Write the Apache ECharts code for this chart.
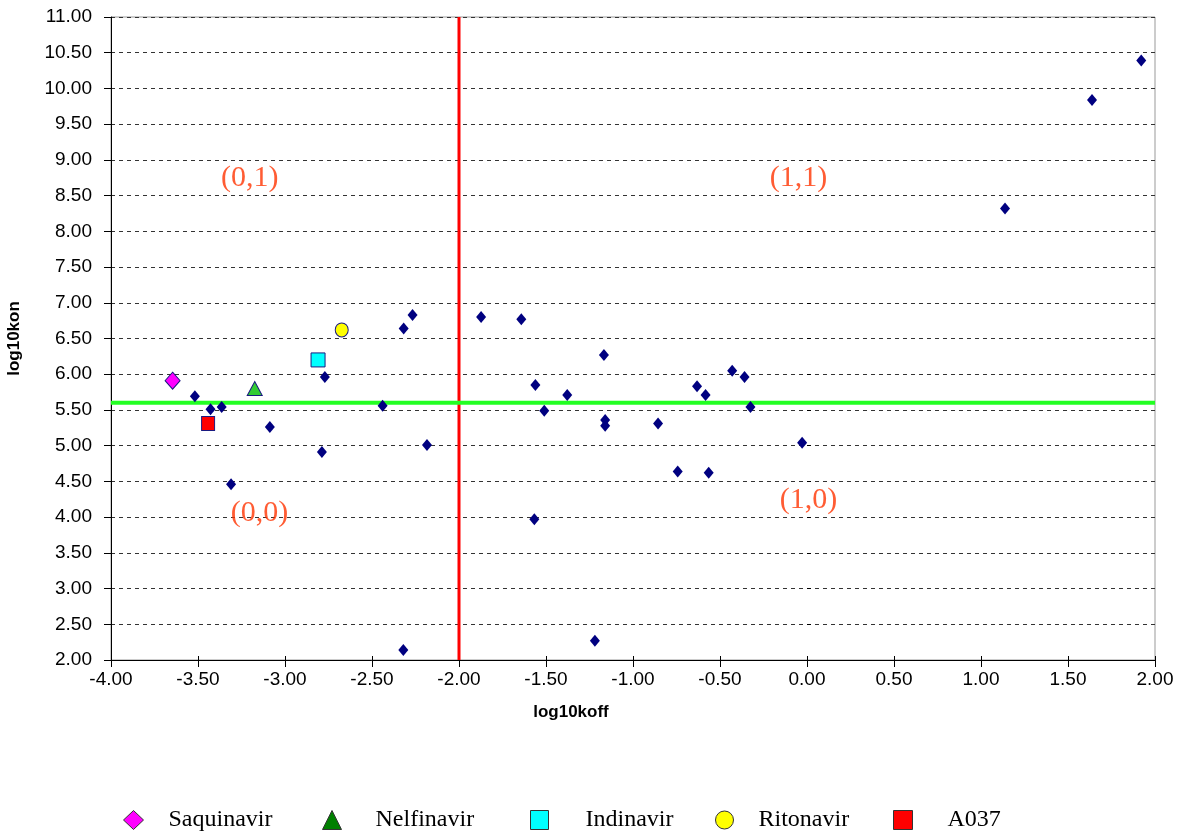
<!DOCTYPE html>
<html><head><meta charset="utf-8">
<script src="https://cdn.jsdelivr.net/npm/echarts@6/dist/echarts.min.js"></script>
<style>html,body{margin:0;padding:0;background:#fff}#c{width:1185px;height:834px}</style>
</head><body><div id="c"></div>
<script>
// Data
const otherKoff = [-3.518,-3.428,-3.364,-3.310,-3.087,-2.771,-2.788,-2.318,-2.267,-2.439,-2.184,-2.320,
  -1.873,-1.642,-1.561,-1.510,-1.378,-1.167,-1.160,-1.160,-0.856,-0.743,-0.632,-0.583,-0.565,-0.430,-0.359,-0.325,-0.028,-1.567,-1.219,
  1.921,1.638,1.138];
const otherKon = [5.69,5.51,5.54,4.46,5.26,5.96,4.91,6.64,6.83,5.56,5.01,2.14,
  6.80,6.77,5.85,5.49,5.71,6.27,5.36,5.28,5.31,4.64,5.83,5.71,4.62,6.05,5.96,5.54,5.04,3.97,2.27,
  10.39,9.84,8.32];
const drugNames = ['Saquinavir','Nelfinavir','Indinavir','Ritonavir','A037'];
const drugKoff = [-3.646,-3.174,-2.810,-2.674,-3.442];
const drugKon = [5.91,5.80,6.20,6.62,5.31];
const koffThreshold = -2.0;
const konThreshold = 5.6;
const quadrantNames = ['(0,1)','(1,1)','(0,0)','(1,0)'];
const quadrantKoff = [-3.203,-0.049,-3.146,0.008];
const quadrantKon = [8.75,8.75,4.06,4.24];
const xTicks = {min:-4, max:2, interval:0.5};
const yTicks = {min:2, max:11, interval:0.5};

const drugStyle = [
  {symbol:'diamond', size:[15,17], color:'#FF00FF', legendColor:'#FF00FF', legendSize:[20,19]},
  {symbol:'triangle', size:[15,14], color:'#33CC33', legendColor:'#008000', legendSize:[19,19]},
  {symbol:'rect', size:[14,14], color:'#00FFFF', legendColor:'#00FFFF', legendSize:[18,19]},
  {symbol:'circle', size:[13,14], color:'#FFFF00', legendColor:'#FFFF00', legendSize:[20,18]},
  {symbol:'rect', size:[13,14], color:'#FF0000', legendColor:'#FF0000', legendSize:[19,19]}
];
const legendCenters = [133, 331.5, 539, 725, 902.5];
const legendTextStarts = [168, 375, 585, 759, 947];

const series = [];
series.push({
  name:'others', type:'scatter', symbol:'diamond', symbolSize:[10,12],
  itemStyle:{color:'#000080', opacity:1},
  data: otherKoff.map((x,i)=>[x, otherKon[i]]), z:3
});
series.push({
  name:'koffLine', type:'line', symbol:'none', silent:true,
  lineStyle:{color:'#FF0000', width:3},
  data:[[koffThreshold, yTicks.min],[koffThreshold, yTicks.max]], z:2
});
series.push({
  name:'konLine', type:'line', symbol:'none', silent:true,
  lineStyle:{color:'#22FF22', width:4},
  data:[[xTicks.min, konThreshold],[xTicks.max, konThreshold]], z:2
});
drugNames.forEach((n,i)=>{
  const s = drugStyle[i];
  series.push({
    name:n, type:'scatter', symbol:s.symbol, symbolSize:s.size,
    itemStyle:{color:s.color, borderColor:'#1a1a80', borderWidth:1, opacity:1},
    data:[[drugKoff[i], drugKon[i]]], z:4
  });
});
series.push({
  name:'quadrants', type:'scatter', symbolSize:1, silent:true,
  itemStyle:{color:'rgba(0,0,0,0)'},
  label:{show:true, position:'inside', formatter:p=>p.data[2],
    fontFamily:'Liberation Serif', fontSize:30, color:'#FF3300'},
  data: quadrantNames.map((n,i)=>[quadrantKoff[i], quadrantKon[i], n]), z:5
});

const legends = drugNames.map((n,i)=>{
  const s = drugStyle[i];
  const left = legendCenters[i] - 5 - s.legendSize[0]/2;
  const pad = legendTextStarts[i] - left - 10 - s.legendSize[0];
  return {
    left: left, top: 803, itemWidth:s.legendSize[0], itemHeight:s.legendSize[1],
    textStyle:{fontFamily:'Liberation Serif', fontSize:24, color:'#000', padding:[2,0,0,pad]},
    data:[{name:n, icon: s.symbol, itemStyle:{color:s.legendColor, borderColor:'#333', borderWidth:1}}]
  };
});

const tickFont = {fontFamily:'Liberation Sans', fontSize:19, color:'#000'};
const chart = echarts.init(document.getElementById('c'), null, {renderer:'canvas'});
chart.setOption({
  animation:false,
  backgroundColor:'#fff',
  grid:{left:111, right:30, top:17, bottom:174, show:true, borderColor:'#999', borderWidth:1,
    containLabel:false, outerBoundsMode:'none'},
  legend: legends,
  xAxis:[{type:'value', min:xTicks.min, max:xTicks.max, interval:xTicks.interval,
    name:'log10koff', nameLocation:'middle', nameGap:44,
    nameTextStyle:{fontFamily:'Liberation Sans', fontSize:17, fontWeight:'bold', color:'#000', padding:[0,124,0,0]},
    axisLine:{show:true, onZero:false, lineStyle:{color:'#000', width:1}},
    axisTick:{show:true, length:7, lineStyle:{color:'#000'}},
    axisLabel:Object.assign({formatter:v=>v.toFixed(2), margin:10}, tickFont),
    splitLine:{show:false}},
   {type:'value', position:'bottom', min:xTicks.min, max:xTicks.max, interval:xTicks.interval,
    axisLine:{show:false}, axisLabel:{show:false}, splitLine:{show:false},
    axisTick:{show:true, inside:true, length:4, lineStyle:{color:'#000'}}}],
  yAxis:[{type:'value', min:yTicks.min, max:yTicks.max, interval:yTicks.interval,
    name:'log10kon', nameLocation:'middle', nameGap:88, nameRotate:90,
    nameTextStyle:{fontFamily:'Liberation Sans', fontSize:17, fontWeight:'bold', color:'#000'},
    axisLine:{show:true, onZero:false, lineStyle:{color:'#000', width:1}},
    axisTick:{show:true, length:7, lineStyle:{color:'#000'}},
    axisLabel:Object.assign({formatter:v=>v.toFixed(2), margin:19}, tickFont),
    splitLine:{show:true, lineStyle:{color:'#333', type:[4,4], width:1}}},
   {type:'value', position:'left', min:yTicks.min, max:yTicks.max, interval:yTicks.interval,
    axisLine:{show:false}, axisLabel:{show:false}, splitLine:{show:false},
    axisTick:{show:true, inside:true, length:4, lineStyle:{color:'#000'}}}],
  series: series
});
</script></body></html>
